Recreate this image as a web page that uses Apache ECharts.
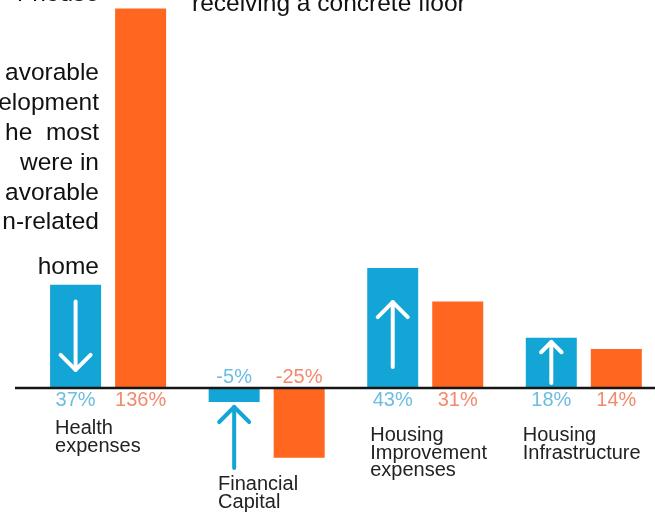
<!DOCTYPE html>
<html>
<head>
<meta charset="utf-8">
<script src="https://cdn.jsdelivr.net/npm/echarts@6/dist/echarts.min.js"></script>
<style>
  html, body { margin: 0; padding: 0; background: #ffffff; }
  #chart { width: 655px; height: 512px; }
</style>
</head>
<body>
<div id="chart"></div>
<script>
// Categories and the two compared changes (percent)
const categories = ['Health\nexpenses', 'Financial\nCapital', 'Housing\nImprovement\nexpenses', 'Housing\nInfrastructure'];
const blueValues = [37, -5, 43, 18];
const orangeValues = [136, -25, 31, 14];

// Arrow annotations on the blue bars: tail and tip, in percent units
const arrowTail = [31, -28.7, 7.5, 1.8];
const arrowTip = [6.5, -6.8, 30.8, 16.5];

// Paragraph fragments around the chart
const sideLines = ['r house', 'avorable', 'elopment', 'he  most', 'were in', 'avorable', 'n-related', 'home'];
const topLine = 'receiving a concrete floor';

const BLUE = '#14a5d7';
const ORANGE = '#ff661f';
const BAR_W = 51;
const GAP = 14;
const FONT = "'Liberation Sans', Arial, Helvetica, sans-serif";

const chart = echarts.init(document.getElementById('chart'), null, { renderer: 'canvas' });

function valueLabel(color) {
  return {
    show: true,
    fontFamily: FONT,
    fontSize: 20,
    color: color,
    formatter: p => p.value + '%'
  };
}

function barData(values) {
  return values.map(v => ({
    value: v,
    label: v >= 0 ? { position: 'bottom', distance: 2 } : { position: 'top', distance: 1 }
  }));
}

chart.setOption({
  animation: false,
  // category centres sit on the grid edges, so the outer groups may overhang it
  grid: { left: 108.1, width: 475.7, top: 8.6, bottom: 12.4 },
  xAxis: {
    type: 'category',
    data: categories,
    boundaryGap: false,
    axisLine: { show: false },
    axisTick: { show: false },
    axisLabel: { show: false },
    splitLine: { show: false }
  },
  yAxis: {
    type: 'value',
    min: -40,
    max: 136,
    show: false,
    splitLine: { show: false }
  },
  series: [
    {
      type: 'bar',
      clip: false,
      data: barData(blueValues),
      barWidth: BAR_W,
      barGap: (GAP / BAR_W * 100).toFixed(1) + '%',
      itemStyle: { color: BLUE },
      label: valueLabel('#6bbde2')
    },
    {
      type: 'bar',
      clip: false,
      data: barData(orangeValues),
      barWidth: BAR_W,
      itemStyle: { color: ORANGE },
      label: valueLabel('#f4896c')
    },
    {
      type: 'custom',
      z: 5,
      clip: false,
      data: categories.map((c, i) => [i, arrowTail[i], arrowTip[i], blueValues[i]]),
      encode: { x: 0, y: [1, 2] },
      renderItem: function (params, api) {
        const i = api.value(0);
        const x = api.coord([i, 0])[0] - (BAR_W + GAP) / 2;
        const yTail = api.coord([i, api.value(1)])[1];
        const yTip = api.coord([i, api.value(2)])[1];
        const barVal = api.value(3);
        const tail = api.value(1);
        const inside = (tail >= 0) === (barVal >= 0) && Math.abs(tail) <= Math.abs(barVal);
        const color = inside ? '#ffffff' : BLUE;
        const dir = yTip > yTail ? 1 : -1;
        const head = Math.min(15, Math.abs(yTip - yTail) * 0.25);
        const style = { stroke: color, lineWidth: 4, lineCap: 'round', lineJoin: 'round', fill: null };
        return {
          type: 'group',
          children: [
            { type: 'polyline', shape: { points: [[x, yTail], [x, yTip]] }, style: style },
            { type: 'polyline', shape: { points: [[x - head, yTip - dir * head], [x, yTip], [x + head, yTip - dir * head]] }, style: style }
          ]
        };
      }
    }
  ]
});

// Baseline, category names and surrounding text placed from the axis scales
const zeroY = chart.convertToPixel({ yAxisIndex: 0 }, 0);
const labelDx = [-53, -48.6, -55, -61];
const labelDy = [32, 88, 39, 39];

const graphics = [
  {
    type: 'line',
    z: 10,
    shape: { x1: 15, y1: zeroY, x2: 655, y2: zeroY },
    style: { stroke: '#151515', lineWidth: 2.6 }
  }
];

categories.forEach((name, i) => {
  const cx = chart.convertToPixel({ xAxisIndex: 0 }, i);
  graphics.push({
    type: 'text',
    z: 10,
    x: cx + labelDx[i],
    y: zeroY + labelDy[i],
    style: {
      text: name,
      fontFamily: FONT,
      fontSize: 20,
      lineHeight: 17.5,
      fill: '#222222',
      align: 'left',
      verticalAlign: 'top'
    }
  });
});

const sideY = [-5.4, 73.6, 103.4, 133, 163, 193, 222.6, 267];
sideLines.forEach((t, i) => {
  graphics.push({
    type: 'text',
    z: 10,
    x: 99,
    y: sideY[i],
    style: {
      text: t,
      fontFamily: FONT,
      fontSize: 24.5,
      fill: '#111111',
      align: 'right',
      verticalAlign: 'middle'
    }
  });
});

graphics.push({
  type: 'text',
  z: 10,
  x: 192,
  y: 4.6,
  style: {
    text: topLine,
    fontFamily: FONT,
    fontSize: 24.5,
    fill: '#111111',
    align: 'left',
    verticalAlign: 'middle'
  }
});

chart.setOption({ graphic: graphics });
</script>
</body>
</html>
